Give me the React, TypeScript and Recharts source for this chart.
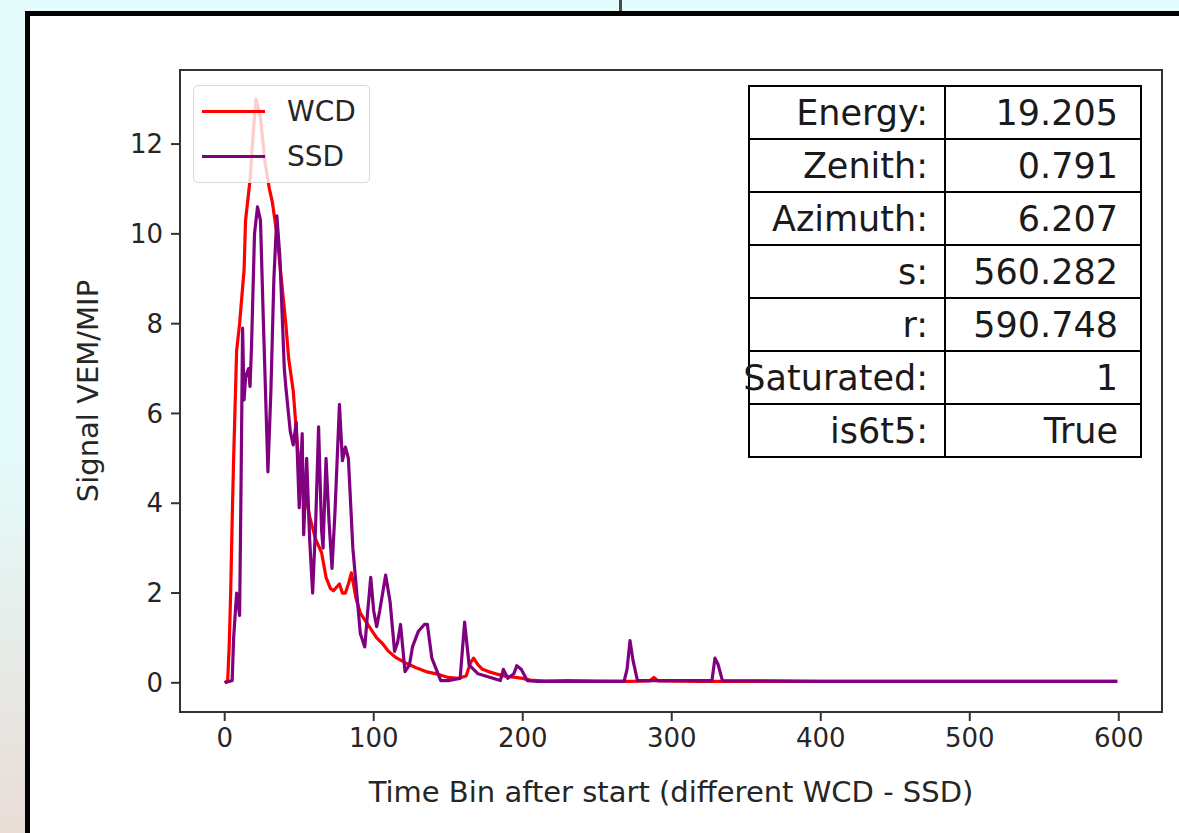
import { LineChart, Line, XAxis, YAxis, Label } from 'recharts';

// WCD trace (time bin, signal)
const wcdTime = [0, 2, 3, 4, 5, 6, 8, 10, 13, 14, 17, 19, 21, 24, 27, 30, 32, 35, 38, 41, 43, 46, 49, 53, 57, 61, 65, 68, 71, 73, 77, 79, 81, 83, 85, 88, 91, 94, 97, 102, 106, 110, 115, 121, 128, 135, 142, 150, 157, 162, 165, 167, 170, 173, 177, 182, 188, 195, 200, 205, 215, 230, 250, 270, 285, 288, 291, 320, 400, 500, 599];
const wcdSignal = [0, 0.05, 0.8, 2.0, 3.6, 5.0, 7.4, 8.0, 9.2, 10.3, 11.2, 12.2, 13.0, 12.6, 11.6, 11.0, 10.7, 10.0, 9.0, 8.0, 7.2, 6.5, 5.2, 4.4, 3.7, 3.2, 2.9, 2.35, 2.1, 2.05, 2.2, 2.0, 2.0, 2.2, 2.45, 1.9, 1.55, 1.4, 1.25, 1.0, 0.87, 0.7, 0.56, 0.45, 0.34, 0.25, 0.2, 0.12, 0.1, 0.15, 0.45, 0.55, 0.4, 0.3, 0.25, 0.2, 0.15, 0.12, 0.1, 0.06, 0.04, 0.05, 0.04, 0.03, 0.04, 0.12, 0.04, 0.03, 0.03, 0.03, 0.03];

// SSD trace (time bin, signal)
const ssdTime = [0, 3, 5, 6, 7, 8, 9, 10, 11, 12, 13, 14, 16, 17, 18, 20, 22, 24, 26, 29, 31, 33, 35, 37, 40, 41, 44, 46, 48, 50, 52, 53, 55, 57, 59, 61, 63, 65, 66, 68, 70, 72, 74, 77, 79, 81, 83, 86, 91, 94, 96, 98, 100, 102, 104, 108, 111, 114, 116, 118, 121, 124, 126, 130, 134, 136, 139, 145, 150, 155, 158, 161, 164, 170, 175, 180, 185, 187, 190, 194, 196, 199, 203, 210, 268, 270, 272, 274, 277, 327, 329, 331, 334, 400, 500, 599];
const ssdSignal = [0, 0.03, 0.05, 1.0, 1.5, 2.0, 1.8, 1.5, 4.5, 7.9, 6.3, 6.8, 7.0, 6.6, 7.5, 10.0, 10.6, 10.3, 8.0, 4.7, 6.5, 9.0, 10.4, 9.5, 7.0, 6.6, 5.6, 5.3, 5.8, 3.9, 5.55, 3.3, 5.0, 3.2, 2.0, 3.5, 5.7, 3.4, 3.0, 5.0, 3.6, 2.55, 3.8, 6.2, 4.95, 5.25, 5.0, 3.0, 1.1, 0.8, 1.6, 2.35, 1.6, 1.25, 1.6, 2.4, 1.8, 0.7, 0.9, 1.3, 0.25, 0.4, 0.8, 1.15, 1.3, 1.3, 0.55, 0.05, 0.05, 0.08, 0.1, 1.35, 0.4, 0.2, 0.15, 0.1, 0.05, 0.3, 0.1, 0.2, 0.38, 0.3, 0.05, 0.03, 0.03, 0.3, 0.94, 0.5, 0.05, 0.05, 0.55, 0.42, 0.05, 0.03, 0.03, 0.03];

const xTicks = [0, 100, 200, 300, 400, 500, 600];
const yTicks = [0, 2, 4, 6, 8, 10, 12];

const tableLabels = ['Energy:', 'Zenith:', 'Azimuth:', 's:', 'r:', 'Saturated:', 'is6t5:'];
const tableValues = ['19.205', '0.791', '6.207', '560.282', '590.748', '1', 'True'];

const wcdData = wcdTime.map((t, i) => ({ t, v: wcdSignal[i] }));
const ssdData = ssdTime.map((t, i) => ({ t, v: ssdSignal[i] }));

const FONT = '"DejaVu Sans", sans-serif';
const tickStyle = { fontSize: 26, fill: '#262626', fontFamily: FONT };
const labelStyle = { fontSize: 29, fill: '#262626', fontFamily: FONT };

export default function App() {
  return (
    <div
      style={{
        position: 'absolute', left: 0, top: 0, width: 1179, height: 833, overflow: 'hidden',
        background: 'linear-gradient(to bottom, #e4fcfc 0%, #e4fbfa 55%, #e9dcd6 100%)',
        fontFamily: FONT,
      }}
    >
      <div style={{ position: 'absolute', left: 619, top: 0, width: 3, height: 14, background: '#4a4a4a' }} />
      <div style={{ position: 'absolute', left: 25, top: 11, width: 1200, height: 900, border: '5px solid #000', background: '#fff' }} />

      <div style={{ position: 'absolute', left: 0, top: 0 }}>
        <LineChart width={1179} height={833} margin={{ top: 70, right: 17, left: 80, bottom: 21 }}>
          <XAxis
            dataKey="t" type="number" domain={[-30, 629]} ticks={xTicks} allowDataOverflow
            height={100} tickSize={9} tickMargin={8} tick={tickStyle} axisLine={false}
            stroke="#333" strokeWidth={2}
          >
            <Label value="Time Bin after start (different WCD - SSD)" position="insideBottom" offset={10}
              style={labelStyle} />
          </XAxis>
          <YAxis
            type="number" domain={[-0.65, 13.65]} ticks={yTicks} allowDataOverflow
            width={100} tickSize={9} tickMargin={8} tick={tickStyle} axisLine={false}
            stroke="#333" strokeWidth={2}
          >
            <Label value="Signal VEM/MIP" angle={-90} position="insideLeft" offset={8}
              style={{ ...labelStyle, textAnchor: 'middle' }} />
          </YAxis>
          <Line data={wcdData} dataKey="v" stroke="#ff0000" strokeWidth={3.2}
            dot={false} isAnimationActive={false} strokeLinejoin="round" />
          <Line data={ssdData} dataKey="v" stroke="#800080" strokeWidth={3.2}
            dot={false} isAnimationActive={false} strokeLinejoin="round" />
        </LineChart>
      </div>

      {/* axes box */}
      <div style={{ position: 'absolute', left: 179, top: 69, width: 984, height: 644, boxSizing: 'border-box', border: '2px solid #333', pointerEvents: 'none' }} />

      {/* legend */}
      <div
        style={{
          position: 'absolute', left: 193, top: 85, width: 175, height: 96,
          background: 'rgba(255,255,255,0.8)', border: '1.5px solid #d8d8d8', borderRadius: 5,
        }}
      >
        {[['WCD', '#ff0000'], ['SSD', '#800080']].map(([name, color], i) => (
          <div key={name} style={{ position: 'absolute', left: 8, top: 10 + i * 45, height: 30, display: 'flex', alignItems: 'center' }}>
            <div style={{ width: 63, height: 3, background: color }} />
            <span style={{ marginLeft: 22, fontSize: 28, color: '#262626' }}>{name}</span>
          </div>
        ))}
      </div>

      {/* info table */}
      <table
        style={{
          position: 'absolute', left: 748, top: 85, borderCollapse: 'collapse', tableLayout: 'fixed',
          width: 388, fontSize: 35, color: '#1a1a1a',
        }}
      >
        <tbody>
          {tableLabels.map((lab, i) => (
            <tr key={lab} style={{ height: 53 }}>
              <td style={{ width: 194, border: '2px solid #000', padding: 0 }}>
                <div style={{ display: 'flex', justifyContent: 'flex-end', whiteSpace: 'nowrap', paddingRight: 16 }}>{lab}</div>
              </td>
              <td style={{ width: 194, border: '2px solid #000', padding: 0 }}>
                <div style={{ display: 'flex', justifyContent: 'flex-end', whiteSpace: 'nowrap', paddingRight: 22 }}>{tableValues[i]}</div>
              </td>
            </tr>
          ))}
        </tbody>
      </table>
    </div>
  );
}
